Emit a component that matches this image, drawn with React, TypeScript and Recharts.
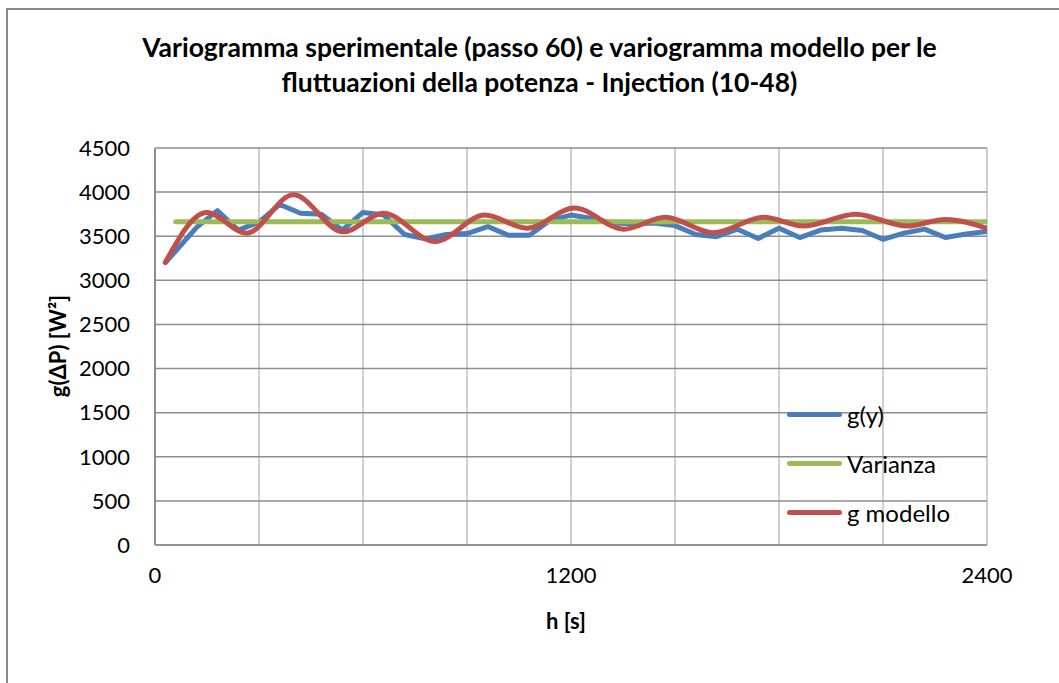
import { LineChart, Line, XAxis, YAxis, CartesianGrid } from 'recharts';

// experimental variogram g(y), lag h in seconds
const lagExp = [30, 120, 180, 240, 300, 360, 420, 480, 540, 600, 660, 720, 780, 840, 900, 960, 1020, 1080, 1140, 1200, 1260, 1320, 1380, 1440, 1500, 1560, 1620, 1680, 1740, 1800, 1860, 1920, 1980, 2040, 2100, 2160, 2220, 2280, 2340, 2400];
const gExp = [3200, 3600, 3790, 3570, 3660, 3860, 3760, 3750, 3570, 3770, 3740, 3520, 3470, 3520, 3530, 3610, 3510, 3510, 3680, 3740, 3700, 3650, 3640, 3650, 3620, 3520, 3495, 3580, 3475, 3590, 3485, 3570, 3590, 3565, 3465, 3535, 3580, 3485, 3525, 3555];

// variance (constant)
const lagVar = [60, 2400];
const varianza = [3665, 3665];

// model variogram, read at its peaks and troughs
const lagModel = [30, 149, 264, 399, 543, 659, 808, 952, 1073, 1210, 1352, 1472, 1611, 1756, 1871, 2021, 2170, 2280, 2400];
const gModel = [3205, 3770, 3535, 3970, 3550, 3760, 3440, 3740, 3590, 3820, 3580, 3715, 3540, 3715, 3615, 3750, 3615, 3690, 3590];

const xTicks = [0, 300, 600, 900, 1200, 1500, 1800, 2100, 2400];
const xLabels = [0, 1200, 2400];
const yTicks = [0, 500, 1000, 1500, 2000, 2500, 3000, 3500, 4000, 4500];

const series = [
  { name: 'g(y)', color: '#4a7ebb' },
  { name: 'Varianza', color: '#9bbb59' },
  { name: 'g modello', color: '#c0504d' },
];

const FONT = 'Lato, "Open Sans", sans-serif';

export default function App() {
  const expData = lagExp.map((h, i) => ({ h, v: gExp[i] }));
  const varData = lagVar.map((h, i) => ({ h, v: varianza[i] }));
  const modelData = lagModel.map((h, i) => ({ h, v: gModel[i] }));

  const tick = { fontSize: 22, fill: '#000', fontFamily: FONT };

  return (
    <div
      style={{
        position: 'absolute',
        left: 6,
        top: 8,
        width: 1060,
        height: 680,
        borderLeft: '2px solid #8a8a8a',
        borderTop: '2px solid #8a8a8a',
        fontFamily: FONT,
        background: '#fff',
      }}
    >
      <style>{'body{overflow:hidden}'}</style>
      <div
        style={{
          position: 'absolute',
          top: 20,
          left: 10,
          width: 1043,
          textAlign: 'center',
          fontWeight: 700,
          fontSize: 26.5,
          lineHeight: '35px',
          whiteSpace: 'nowrap',
        }}
      >
        Variogramma sperimentale (passo 60) e variogramma modello per le
        <br />
        fluttuazioni della potenza - Injection (10-48)
      </div>

      <div style={{ position: 'absolute', left: 0, top: 0 }}>
        <LineChart width={1043} height={650} data={expData} margin={{ top: 138, right: 64, left: 0, bottom: 0 }}>
          <CartesianGrid horizontal={false} vertical stroke="#c0c0c0" strokeWidth={1.5} />
          <CartesianGrid horizontal vertical={false} stroke="#8e8e8e" strokeWidth={1.5} />
          <XAxis
            dataKey="h"
            type="number"
            domain={[0, 2400]}
            ticks={xTicks}
            tickFormatter={(v: number) => (xLabels.includes(v) ? String(v) : '')}
            tick={tick}
            tickLine={false}
            tickMargin={16}
            axisLine={{ stroke: '#8e8e8e', strokeWidth: 1.5 }}
            height={115}
            allowDataOverflow
          />
          <YAxis
            type="number"
            domain={[0, 4500]}
            ticks={yTicks}
            tick={tick}
            tickLine={false}
            tickMargin={19}
            axisLine={{ stroke: '#8e8e8e', strokeWidth: 2 }}
            width={147}
            interval={0}
          />
          <Line data={expData} dataKey="v" name="g(y)" stroke={series[0].color} strokeWidth={5} dot={false} type="linear" isAnimationActive={false} strokeLinejoin="round" strokeLinecap="round" />
          <Line data={varData} dataKey="v" name="Varianza" stroke={series[1].color} strokeWidth={5} dot={false} type="linear" isAnimationActive={false} strokeLinecap="round" />
          <Line data={modelData} dataKey="v" name="g modello" stroke={series[2].color} strokeWidth={5} dot={false} type="monotone" isAnimationActive={false} strokeLinecap="round" />
        </LineChart>
      </div>

      {/* legend inside the plot, on the right */}
      <div style={{ position: 'absolute', left: 779, top: 380 }}>
        {series.map((s) => (
          <div key={s.name} style={{ display: 'flex', alignItems: 'center', height: 49 }}>
            <span style={{ display: 'inline-block', width: 55, height: 5, borderRadius: 3, background: s.color }} />
            <span style={{ marginLeft: 5, fontSize: 24, color: '#000' }}>{s.name}</span>
          </div>
        ))}
      </div>

      <div
        style={{
          position: 'absolute',
          left: -6,
          top: 336,
          width: 110,
          textAlign: 'center',
          fontWeight: 700,
          fontSize: 22,
          transform: 'translate(0, -50%) rotate(-90deg)',
          whiteSpace: 'nowrap',
        }}
      >
        g(ΔP) [W²]
      </div>
      <div
        style={{
          position: 'absolute',
          left: 458,
          top: 597,
          width: 200,
          textAlign: 'center',
          fontWeight: 700,
          fontSize: 22,
        }}
      >
        h [s]
      </div>
    </div>
  );
}
